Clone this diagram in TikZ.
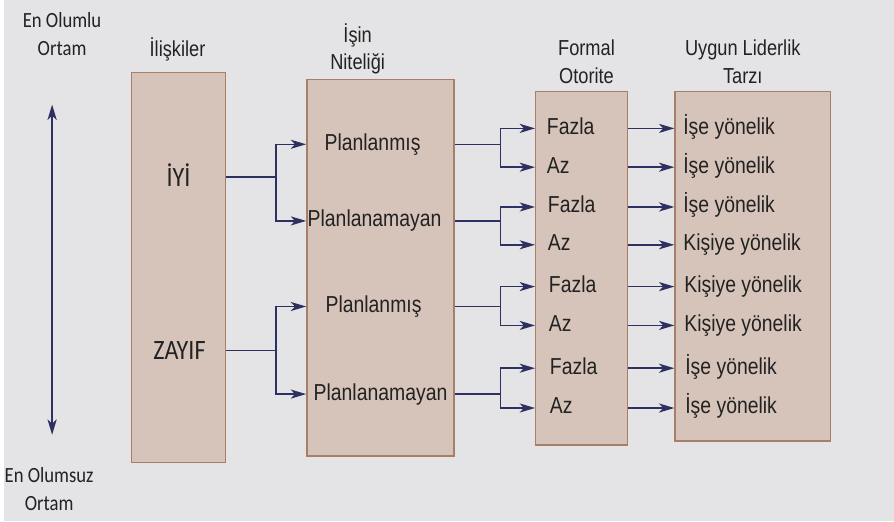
\documentclass[tikz,border=0pt]{standalone}
\usepackage{fontspec}
\setmainfont[FakeStretch=0.84]{Liberation Sans}
\newfontfamily\calfont[FakeStretch=0.86]{Carlito}
\usetikzlibrary{arrows.meta, positioning}

\definecolor{paper}{HTML}{E4E4E6}
\definecolor{boxfill}{HTML}{D6C4BA}
\definecolor{boxline}{HTML}{A87F66}
\definecolor{navy}{HTML}{2E3061}
\definecolor{ink}{HTML}{222222}

\begin{document}
\begin{tikzpicture}[
  x=0.025cm, y=-0.025cm,
  >={Stealth[length=11pt, width=6.5pt, inset=3pt]},
  font=\fontsize{16.5}{18}\selectfont, text=ink,
  column/.style={draw=boxline, fill=boxfill, line width=1pt, rectangle, inner sep=0pt},
  title/.style={align=center, font=\fontsize{15.5}{19.5}\selectfont},
  pole/.style={align=center, font=\calfont\fontsize{15.5}{20}\selectfont},
  level/.style={font=\calfont\fontsize{20}{22}\selectfont, text height=13pt, text depth=0pt},
  item/.style={inner sep=0pt, text height=12pt, text depth=3.5pt},
  row/.style={item, anchor=west},
  link/.style={draw=navy, line width=1.1pt}
]

  % Zemin (sayfa)
  \fill[paper] (0,0) rectangle (894,524);

  % Sütun kutuları
  \node[column, minimum width=2.35cm, minimum height=9.8cm] (rel) at (175,269) {};
  \node[column, minimum width=3.7cm, minimum height=9.45cm] (nit) at (378,269) {};
  \node[column, minimum width=2.3cm, minimum height=8.875cm] (oto) at (580,269.5) {};
  \node[column, minimum width=3.9cm, minimum height=8.775cm] (lid) at (752,267.5) {};

  % Başlıklar
  \node[title] (relT) at (174,50) {İlişkiler};
  \node[title] (nitT) at (355,49) {İşin\\Niteliği};
  \node[title] (otoT) at (585,62) {Formal\\Otorite};
  \node[title] (lidT) at (742,62) {Uygun Liderlik\\Tarzı};

  % Ortam ekseni
  \node[pole] (best) at (58,34) {En Olumlu\\Ortam};
  \node[pole] (worst) at (45,491) {En Olumsuz\\Ortam};
  \coordinate (axTop) at (48,105);
  \coordinate (axBot) at (48,437);
  \draw[link, line width=1.6pt, <->] (axTop) -- (axBot);

  % İlişkiler
  \node[level] (iyi) at (175,178) {İYİ};
  \node[level] (zayif) at (176,352) {ZAYIF};

  % İşin niteliği
  \node[item] (plan1) at (370,145) {Planlanmış};
  \node[item] (unpl1) at (372,222) {Planlanamayan};
  \node[item] (plan2) at (371,308) {Planlanmış};
  \node[item] (unpl2) at (378,396) {Planlanamayan};

  % Formal otorite
  \node[row] (fz1) at (545,129) {Fazla};
  \node[row] (az1) at (545,168) {Az};
  \node[row] (fz2) at (546,208) {Fazla};
  \node[row] (az2) at (546,246) {Az};
  \node[row] (fz3) at (547,288) {Fazla};
  \node[row] (az3) at (547,327) {Az};
  \node[row] (fz4) at (548,370) {Fazla};
  \node[row] (az4) at (548,410) {Az};

  % Uygun liderlik tarzı
  \node[row] (ld1) at (682,129) {İşe yönelik};
  \node[row] (ld2) at (682,168) {İşe yönelik};
  \node[row] (ld3) at (682,208) {İşe yönelik};
  \node[row] (ld4) at (682,246) {Kişiye yönelik};
  \node[row] (ld5) at (683,288) {Kişiye yönelik};
  \node[row] (ld6) at (683,327) {Kişiye yönelik};
  \node[row] (ld7) at (684,370) {İşe yönelik};
  \node[row] (ld8) at (684,410) {İşe yönelik};

  % İlişkiler -> İşin niteliği
  \draw[link] (iyi -| rel.east) -- ++(50,0) coordinate (iyiS);
  \draw[link, ->] (iyiS) |- (plan1 -| nit.west);
  \draw[link, ->] (iyiS) |- (unpl1 -| nit.west);
  \draw[link] (zayif -| rel.east) -- ++(50,0) coordinate (zayifS);
  \draw[link, ->] (zayifS) |- (plan2 -| nit.west);
  \draw[link, ->] (zayifS) |- (unpl2 -| nit.west);

  % İşin niteliği -> Formal otorite
  \draw[link] (plan1 -| nit.east) -- ++(46,0) coordinate (plan1S);
  \draw[link, ->] (plan1S) |- (fz1 -| oto.west);
  \draw[link, ->] (plan1S) |- (az1 -| oto.west);
  \draw[link] (unpl1 -| nit.east) -- ++(46,0) coordinate (unpl1S);
  \draw[link, ->] (unpl1S) |- (fz2 -| oto.west);
  \draw[link, ->] (unpl1S) |- (az2 -| oto.west);
  \draw[link] (plan2 -| nit.east) -- ++(46,0) coordinate (plan2S);
  \draw[link, ->] (plan2S) |- (fz3 -| oto.west);
  \draw[link, ->] (plan2S) |- (az3 -| oto.west);
  \draw[link] (unpl2 -| nit.east) -- ++(46,0) coordinate (unpl2S);
  \draw[link, ->] (unpl2S) |- (fz4 -| oto.west);
  \draw[link, ->] (unpl2S) |- (az4 -| oto.west);

  % Formal otorite -> Liderlik tarzı
  \draw[link, ->] (fz1 -| oto.east) -- (ld1 -| lid.west);
  \draw[link, ->] (az1 -| oto.east) -- (ld2 -| lid.west);
  \draw[link, ->] (fz2 -| oto.east) -- (ld3 -| lid.west);
  \draw[link, ->] (az2 -| oto.east) -- (ld4 -| lid.west);
  \draw[link, ->] (fz3 -| oto.east) -- (ld5 -| lid.west);
  \draw[link, ->] (az3 -| oto.east) -- (ld6 -| lid.west);
  \draw[link, ->] (fz4 -| oto.east) -- (ld7 -| lid.west);
  \draw[link, ->] (az4 -| oto.east) -- (ld8 -| lid.west);

\end{tikzpicture}
\end{document}
